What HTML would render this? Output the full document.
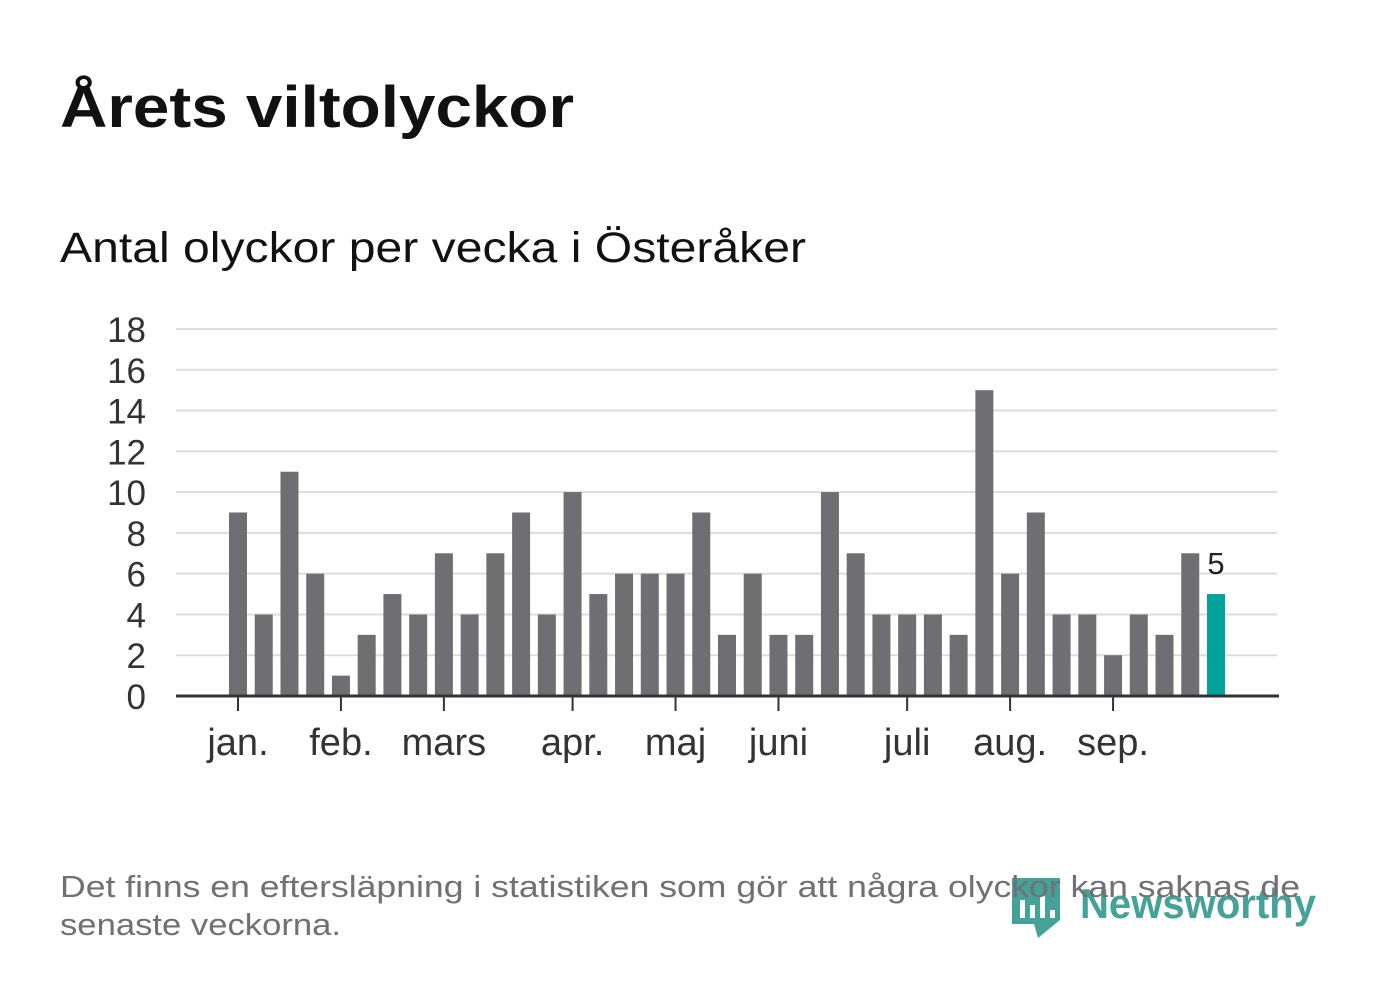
<!DOCTYPE html>
<html><head><meta charset="utf-8"><style>
body{margin:0;background:#fff;width:1382px;height:999px;overflow:hidden;font-family:"Liberation Sans","DejaVu Sans",sans-serif;}
</style></head><body>
<svg width="1382" height="999">
<text x="60" y="127" font-size="58" font-weight="bold" fill="#111" textLength="514" lengthAdjust="spacingAndGlyphs">Årets viltolyckor</text>
<text x="60" y="262" font-size="43" fill="#111" textLength="746" lengthAdjust="spacingAndGlyphs">Antal olyckor per vecka i Österåker</text>
<g id="grid"></g><g id="bars"></g><g id="xax"></g>
<g opacity="0.95">
<path d="M1012 878 h48 v42 l-22 18 l-4 -14 h-22 z" fill="#3a9e94"/>
<rect x="1020" y="900" width="5" height="18" fill="#fff"/><rect x="1030" y="905" width="5" height="13" fill="#fff"/><rect x="1040" y="895" width="5" height="23" fill="#fff"/><rect x="1050" y="910" width="5" height="8" fill="#fff"/>
<text x="1080" y="918" font-size="42" font-weight="bold" fill="#3a9e94" textLength="236" lengthAdjust="spacingAndGlyphs">Newsworthy</text>
</g>
<text x="60" y="897" font-size="31" fill="#707075" textLength="1240" lengthAdjust="spacingAndGlyphs">Det finns en eftersläpning i statistiken som gör att några olyckor kan saknas de</text>
<text x="60" y="935" font-size="31" fill="#707075" textLength="281" lengthAdjust="spacingAndGlyphs">senaste veckorna.</text>
</svg>
<script>
const values=[9,4,11,6,1,3,5,4,7,4,7,9,4,10,5,6,6,6,9,3,6,3,3,10,7,4,4,4,3,15,6,9,4,4,2,4,3,7,5];
const yTicks=[0,2,4,6,8,10,12,14,16,18];
const months=["jan.","feb.","mars","apr.","maj","juni","juli","aug.","sep."];
const monthPos=[0,4,8,13,17,21,26,30,34];
const NS="http://www.w3.org/2000/svg";
const y=v=>696-v*(367/18);
const x=i=>238+i*(978/38);
function mk(t,a,p){const e=document.createElementNS(NS,t);for(const k in a)e.setAttribute(k,a[k]);p.appendChild(e);return e;}
const g=document.getElementById('grid'),b=document.getElementById('bars'),xa=document.getElementById('xax');
yTicks.forEach(v=>{
 if(v>0){const l=mk('line',{x1:176,x2:1277,y1:y(v),y2:y(v),stroke:'#ddd','stroke-width':2},g);
 
 }
 const t=mk('text',{x:146,y:y(v)+13,'text-anchor':'end','font-size':35,fill:'#333'},g);t.textContent=v;
 
 
});
values.forEach((v,i)=>{
 const last=i===values.length-1;
 const r=mk('rect',{x:x(i)-9,y:y(v),width:18,height:y(0)-y(v),fill:last?'#00a39a':'#6f6e73'},b);
 
 
 if(last){const t=mk('text',{x:x(i),y:y(v)-20,'text-anchor':'middle','font-size':31,fill:'#222'},b);t.textContent=v;
 
 }
});
const ax=mk('line',{x1:176,x2:1279,y1:696,y2:696,stroke:'#333','stroke-width':3},xa);


months.forEach((m,j)=>{
 const px=x(monthPos[j]);
 mk('line',{x1:px,x2:px,y1:696,y2:711,stroke:'#333','stroke-width':2},xa);
 const t=mk('text',{x:px,y:755,'text-anchor':'middle','font-size':38,fill:'#333'},xa);t.textContent=m;
 
 
});
</script>
</body></html>
